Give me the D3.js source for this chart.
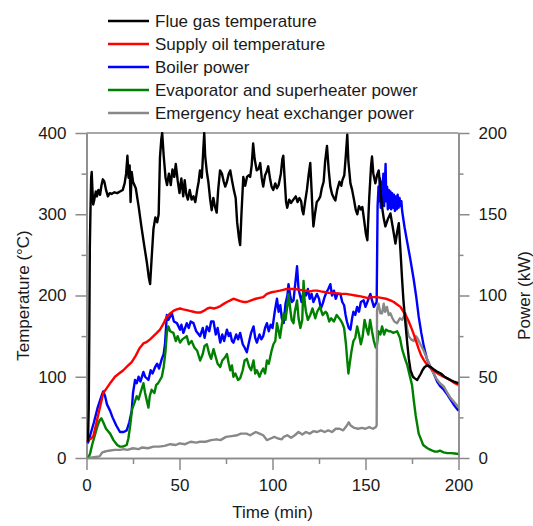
<!DOCTYPE html>
<html>
<head>
<meta charset="utf-8">
<script src="https://cdn.jsdelivr.net/npm/d3@7"></script>
<style>
  body { margin: 0; background: #fff; }
  text { font-family: "Liberation Sans", Arial, sans-serif; fill: #1a1a1a; }
</style>
</head>
<body>
<svg id="chart" width="533" height="526"></svg>
<script>
// time in min, temperatures in degC, powers in kW
var flueGas = [[0.8,20],[1.2,60],[1.5,150],[1.8,260],[2.1,300],[2.5,345],[2.8,352],[3.2,330],[3.6,312],[4.2,318],[5,328],[5.6,322],[6.4,330],[7.3,324],[8,335],[8.8,343],[9.6,340],[10.5,330],[11.5,322],[12.5,326],[13.5,325],[15,327],[16.5,326],[18,328],[19.5,330],[20.5,338],[21.3,350],[22,372],[22.6,345],[23.2,360],[23.7,315],[24.3,352],[25,340],[26.5,332],[28,310],[29.5,285],[31,262],[32.5,240],[33.5,222],[34.2,214],[35,245],[36,282],[37,296],[38,290],[38.8,300],[39.5,370],[40.2,392],[40.7,400],[41.5,372],[42.5,345],[43.3,336],[44.3,350],[45.3,336],[46.2,355],[47.2,346],[48,362],[49,342],[50,326],[51,344],[52,322],[52.8,342],[53.6,325],[54.5,318],[55.5,330],[56.5,318],[57.5,322],[58.5,315],[59.5,330],[60.3,340],[61,354],[62,345],[62.8,380],[63.3,400],[63.8,372],[64.7,352],[65.5,340],[66.5,318],[67.3,305],[68.2,320],[69,310],[70,302],[70.8,330],[71.8,354],[72.8,350],[73.8,340],[74.6,334],[75.5,340],[76.5,350],[77.3,354],[78.2,342],[79.2,330],[80.2,320],[81,290],[82,270],[82.6,262],[83.3,300],[84.3,346],[85.3,335],[86.3,346],[87.2,348],[88,346],[88.8,360],[89.6,387],[90.4,368],[91.5,354],[92.5,356],[93.4,363],[94.2,345],[95,334],[96,348],[96.8,352],[97.7,359],[98.6,345],[99.5,334],[100.4,330],[101.5,338],[102.4,332],[103.3,336],[104.5,350],[105.3,368],[105.8,372],[106.5,345],[107.3,315],[107.9,308],[109,318],[110,314],[111.2,318],[112.5,322],[113.5,315],[114.5,320],[115.4,316],[116,305],[116.6,300],[117.5,315],[118.5,330],[119.5,350],[120.3,363],[121,330],[121.6,300],[122,285],[122.8,300],[123.8,315],[124.8,318],[125.7,322],[126.5,332],[127.5,340],[128.3,365],[129.3,384],[130.2,355],[131.1,334],[132,325],[133,320],[133.8,317],[134.8,330],[136,340],[137,335],[137.6,342],[138.6,348],[139.5,375],[140.2,398],[140.8,365],[141.9,338],[142.8,330],[143.8,318],[144.8,305],[145.6,300],[146.5,310],[147.5,306],[148.3,309],[149.3,292],[150.2,276],[151,268],[152,320],[153,360],[153.5,371],[154.2,350],[155.3,338],[156.2,348],[157.1,354],[158,330],[158.9,309],[159.8,295],[160.7,285],[162,294],[163.4,301],[164.8,282],[166.1,264],[167,278],[167.9,289],[168.8,255],[169.7,219],[170.4,194],[171.3,170],[172.5,140],[173.3,122],[174.2,108],[175.5,100],[176.5,98],[177.8,96],[178.8,100],[179.8,104],[180.6,108],[181.8,112],[183.3,114],[185,112],[186.8,109],[188.7,106],[190.5,104],[192.5,100],[194,98],[195.7,96],[197.5,94],[200,92]];

var supplyOil = [[0,20],[1,22],[2.5,24],[3.7,27],[5,40],[6.5,55],[8,70],[9,80],[10.9,86],[13,93],[15.3,100],[17.5,104],[19.8,108],[22,113],[24.3,118],[26.5,126],[28.5,135],[30.6,141],[32.5,143],[34.2,146],[36,150],[37.8,154],[39.5,158],[41.3,165],[43.2,174],[45,178],[46.7,181],[48.5,183],[50.3,184],[52,183],[53.9,182],[55.5,181],[57.5,180],[59.5,179],[61.1,179],[63,181],[65,184],[66.5,185],[68.5,184],[70.1,185],[72,187],[74,190],[75.5,192],[77.3,194],[79,196],[80.5,195],[82.6,193],[84.5,192],[86.2,192],[88.5,194],[91,196],[93,197],[95,198],[97,202],[99.5,204],[102,205],[104,206],[105.8,207],[107.5,208],[109.6,208],[112,208],[115,207],[117.5,206],[120.3,205],[122,206],[123.9,206],[126,205],[128.5,204],[131.1,203],[134,203],[137,202],[139.5,202],[141.9,201],[144.5,200],[147.5,199],[150.8,197],[153.5,198],[156.2,198],[158.5,197],[161,196],[163.4,194],[165.2,192],[167,189],[168.8,186],[170.4,180],[171.8,175],[173.1,169],[174.5,161],[175.8,153],[177.2,144],[178.5,135],[179.8,127],[181.2,121],[183,115],[184.9,111],[187,107],[189.5,103],[191.9,100],[194,98],[196,95],[198,92],[200,90]];

var boilerPower = [[0.5,9],[1,10],[2,14],[4,22],[6,31],[8,38],[9,41],[10,38],[11,33],[12.7,29],[14,25],[16,20],[18,16],[20,16],[21.6,17],[23,22],[24.3,29],[25,40],[26.1,48],[27,46],[28,50],[29,47],[30.6,53],[31.5,50],[33.3,48],[34.5,54],[35.5,52],[36.9,56],[38,58],[39,55],[40.5,61],[41.5,64],[42.2,70],[43.2,88],[44,85],[45.9,89],[47,84],[48.6,83],[50.3,79],[51,82],[52.1,77],[53.9,83],[55,80],[56,84],[57.5,83],[59,78],[61.1,75],[62.5,80],[63.5,74],[64.7,81],[66,78],[67,84],[68.3,84],[69.5,76],[70.5,80],[71.9,71],[73,76],[74,72],[75.5,79],[76.5,75],[77.3,77],[78.2,72],[79,71],[80.5,76],[81.5,73],[82.6,77],[84,70],[85,68],[86.2,65],[87.5,72],[88.5,77],[89.8,81],[90.7,74],[91.6,71],[93,76],[94,73],[95,75],[96,80],[97,83],[98,78],[99,82],[100,80],[101.2,90],[102.4,98],[103.3,90],[104.2,94],[105,86],[106,83],[107,95],[108,100],[108.6,107],[109.5,100],[110.3,96],[111.3,97],[112.3,108],[113.2,118],[114,104],[114.8,100],[115.6,96],[116.7,103],[118,100],[119,104],[120,98],[121,101],[122,96],[123.9,101],[125,98],[126,92],[127,95],[128,99],[129,102],[130,104],[131.1,107],[132,100],[133,103],[134,98],[135,101],[136.5,101],[137.5,96],[138.5,94],[139.3,88],[140,84],[141,80],[141.9,79],[142.8,86],[143.5,90],[144.5,88],[145.5,93],[146.5,90],[147.5,96],[149,97],[150,93],[151,96],[152.6,101],[153.5,97],[154.5,93],[155.5,95],[156,96],[156.5,155],[157,167],[157.4,158],[157.8,172],[158.2,154],[158.5,170],[158.9,156],[159.3,166],[159.6,175],[160,155],[160.4,168],[160.8,181],[161.2,158],[161.6,167],[162,153],[162.5,165],[162.9,154],[163.4,164],[163.8,153],[164.3,163],[164.8,154],[165.3,162],[165.8,152],[166.3,161],[166.8,153],[167.3,162],[167.8,154],[168.3,160],[168.8,155],[169.3,158],[169.7,152],[171,142],[172.4,133],[174,123],[175.9,110],[177.3,99],[178.6,87],[180,77],[181.3,69],[183,61],[184.8,56],[186.7,52],[188.5,47],[190.3,44],[192.1,42],[194,39],[195.7,36],[198,32],[200,29]];

var evapPower = [[1,0],[2,3],[3,8],[4.5,14],[6,20],[7,23],[8,24.4],[9,22],[10.5,18],[12.7,15],[14.5,11],[16.5,8],[18,7],[19.5,7],[21.6,8],[22.5,12],[23.5,20],[24.5,30],[25.5,33],[26.1,35],[27,38],[28,36],[29,40],[30.6,46],[31.5,40],[32.5,35],[33.3,31],[34,38],[35,42],[36.5,40],[37.5,45],[38.5,46],[40.5,50],[41.5,56],[42.5,66],[43.2,77],[44,81],[45,78],[46.7,77],[48,72],[49,75],[50.3,71],[51.5,73],[53.9,75],[55,70],[56.5,72],[58,68],[59.5,66],[61.1,60],[62.5,64],[63.5,69],[64.7,70],[66,64],[67,61],[68.3,67],[69.5,62],[70.5,58],[71.9,56],[73,60],[74.5,62],[75.5,64],[76.5,58],[77.3,54],[78.2,57],[79,50],[80,52],[81.5,48],[82.6,49],[84,54],[85,60],[86.2,61],[87.5,56],[88.5,54],[89.8,60],[90.7,52],[91.6,54],[93,50],[94,53],[95,55],[96,52],[97,60],[98,58],[99.5,66],[100.5,70],[101.5,72],[102.4,83],[103.3,78],[104,74],[105,82],[106,89],[107,85],[108,94],[108.6,101],[109.5,92],[110.3,85],[111.3,83],[112,90],[113.2,97],[114,86],[115,80],[116,85],[116.7,109],[117.3,96],[118,90],[119,85],[120.3,88],[121.5,92],[123,86],[124,90],[125.5,93],[127,88],[128.5,90],[129.3,89],[130.5,84],[131.5,86],[133,84],[134.5,88],[136.5,85],[137.5,83],[138.5,80],[139.5,70],[140.2,60],[140.8,52],[141.5,58],[142.5,66],[143.5,72],[144.5,74],[145.5,81],[146.5,76],[147.5,70],[148.5,75],[149.5,85],[150.5,80],[151.5,76],[152.5,85],[153.5,78],[154.5,72],[155.5,68],[156.2,70],[157,78],[158,76],[158.9,81],[160,76],[161,79],[162.5,78],[163.4,78],[165,77],[167,78],[168.5,74],[169.7,67],[171,62],[172.5,57],[173.5,52],[175,45],[175.9,36],[177,26],[178.6,15],[180,11],[181,8],[183.3,6],[185,5],[187,4],[188.7,3.9],[190,4.5],[192,3.5],[194,3],[196,3],[198,2.8],[200,2.5]];

var emergencyPower = [[1,0],[4,0.5],[7,1],[8.5,3.5],[10,4],[12,4.5],[15,5],[18,5],[20,5.5],[22,5],[25,6],[28,5.5],[30,6.5],[33,6],[36,7],[39,7],[42,7.5],[45,8.5],[48,8],[50,9],[53,8.5],[56,10],[59,9.5],[61,10],[64,10],[67,11],[70,11.5],[72,11],[75,13],[78,13.5],[81,14],[83,15],[86,15],[88,14],[91,16],[93,15],[95,14],[97,11],[99,12],[101,13],[103,12],[105,11.5],[106,13],[108,14],[110,12.5],[112,14],[114,16],[116,14.5],[118,16],[120,15],[122,16.5],[124,16],[126,17],[128,16],[130,17],[132,16],[134,18],[136,18],[138,17],[140,20],[141,22],[142,20],[144,18.5],[146,18],[148,18.5],[150,18],[152,19],[154,18],[155.5,19],[156,20],[156.2,91],[157,95],[158,89],[158.9,89],[159.8,95],[160.5,90],[161.5,93],[162.5,88],[163.4,89],[164.5,86],[165.5,84],[167,83],[168.5,86],[169.7,85],[170.5,87],[171.5,89],[172.3,80],[173.2,75],[174.5,73],[175.9,72],[177,75],[177.8,74],[179.5,70],[181.3,66],[183.5,60],[185.8,54],[188,49],[190,46],[192.1,44],[194,40],[195.7,37],[198,34],[200,31]];

var legendLabels = ["Flue gas temperature", "Supply oil temperature", "Boiler power",
                    "Evaporator and superheater power", "Emergency heat exchanger power"];
var legendColors = ["#000000", "#ff0000", "#0000ff", "#008000", "#888888"];

var tempTicks = [0, 100, 200, 300, 400];
var powerTicks = [0, 50, 100, 150, 200];
var timeTicks = [0, 50, 100, 150, 200];

var plotLeft = 86.5, plotRight = 458.5, plotTop = 133, plotBottom = 458;
var axisColor = "#8a8a8a";

var svg = d3.select("#chart");

var xScale = d3.scaleLinear().domain([0, 200]).range([plotLeft, plotRight]);
var yTemp = d3.scaleLinear().domain([0, 400]).range([plotBottom, plotTop]);
var yPower = d3.scaleLinear().domain([0, 200]).range([plotBottom, plotTop]);

svg.append("defs").append("clipPath").attr("id", "plotClip")
  .append("rect").attr("x", plotLeft).attr("y", plotTop - 1)
  .attr("width", plotRight - plotLeft).attr("height", plotBottom - plotTop + 1);

// frame top line
svg.append("line")
  .attr("x1", plotLeft).attr("x2", plotRight).attr("y1", plotTop).attr("y2", plotTop)
  .attr("stroke", axisColor).attr("stroke-width", 1.5);

function styleAxis(g) {
  g.select(".domain").attr("stroke", axisColor).attr("stroke-width", 1.5);
  g.selectAll(".tick line").attr("stroke", axisColor).attr("stroke-width", 1.5);
  g.selectAll(".tick text").attr("font-size", "17px").attr("fill", "#1a1a1a")
    .attr("font-family", "'Liberation Sans', Arial, sans-serif");
}

// minor ticks
svg.append("g").attr("transform", "translate(" + plotLeft + ",0)")
  .call(d3.axisLeft(yTemp).tickValues([50, 150, 250, 350]).tickSize(5).tickSizeOuter(0).tickFormat(""))
  .call(styleAxis);
svg.append("g").attr("transform", "translate(" + plotRight + ",0)")
  .call(d3.axisRight(yPower).tickValues([25, 75, 125, 175]).tickSize(5).tickSizeOuter(0).tickFormat(""))
  .call(styleAxis);
svg.append("g").attr("transform", "translate(0," + plotBottom + ")")
  .call(d3.axisBottom(xScale).tickValues([25, 75, 125, 175]).tickSize(6).tickSizeOuter(0).tickFormat(""))
  .call(styleAxis);

// major ticks
svg.append("g").attr("transform", "translate(" + plotLeft + ",0)")
  .call(d3.axisLeft(yTemp).tickValues(tempTicks).tickSize(11).tickSizeOuter(0).tickPadding(9))
  .call(styleAxis);
svg.append("g").attr("transform", "translate(" + plotRight + ",0)")
  .call(d3.axisRight(yPower).tickValues(powerTicks).tickSize(11).tickSizeOuter(0).tickPadding(9))
  .call(styleAxis);
svg.append("g").attr("transform", "translate(0," + plotBottom + ")")
  .call(d3.axisBottom(xScale).tickValues(timeTicks).tickSize(12).tickSizeOuter(0).tickPadding(9))
  .call(styleAxis);

// axis titles
svg.append("text")
  .attr("transform", "translate(23," + ((plotTop + plotBottom) / 2) + ") rotate(-90)")
  .attr("text-anchor", "middle").attr("dy", "0.35em").attr("font-size", "17px")
  .text("Temperature (°C)");
svg.append("text")
  .attr("transform", "translate(524," + ((plotTop + plotBottom) / 2) + ") rotate(-90)")
  .attr("text-anchor", "middle").attr("dy", "0.35em").attr("font-size", "17px")
  .text("Power (kW)");
svg.append("text")
  .attr("x", (plotLeft + plotRight) / 2).attr("y", 518)
  .attr("text-anchor", "middle").attr("font-size", "17px")
  .text("Time (min)");

// series
var tempLine = d3.line().x(function(d) { return xScale(d[0]); }).y(function(d) { return yTemp(d[1]); });
var powerLine = d3.line().x(function(d) { return xScale(d[0]); }).y(function(d) { return yPower(d[1]); });

var plot = svg.append("g").attr("clip-path", "url(#plotClip)");

var series = [
  { data: boilerPower, line: powerLine, color: legendColors[2] },
  { data: evapPower, line: powerLine, color: legendColors[3] },
  { data: emergencyPower, line: powerLine, color: legendColors[4] },
  { data: supplyOil, line: tempLine, color: legendColors[1] },
  { data: flueGas, line: tempLine, color: legendColors[0] }
];

series.forEach(function(s) {
  plot.append("path")
    .datum(s.data)
    .attr("d", s.line)
    .attr("fill", "none")
    .attr("stroke", s.color)
    .attr("stroke-width", 2.4)
    .attr("stroke-linejoin", "round");
});

// legend
var legend = svg.append("g").attr("transform", "translate(108,21)");
var item = legend.selectAll("g")
  .data(legendLabels)
  .enter()
  .append("g")
  .attr("transform", function(d, i) { return "translate(0," + (i * 23) + ")"; });

item.append("line")
  .attr("x1", 0).attr("x2", 41)
  .attr("stroke", function(d, i) { return legendColors[i]; })
  .attr("stroke-width", 2.4);

item.append("text")
  .attr("x", 47).attr("dy", "0.35em").attr("font-size", "17px")
  .text(function(d) { return d; });
</script>
</body>
</html>
